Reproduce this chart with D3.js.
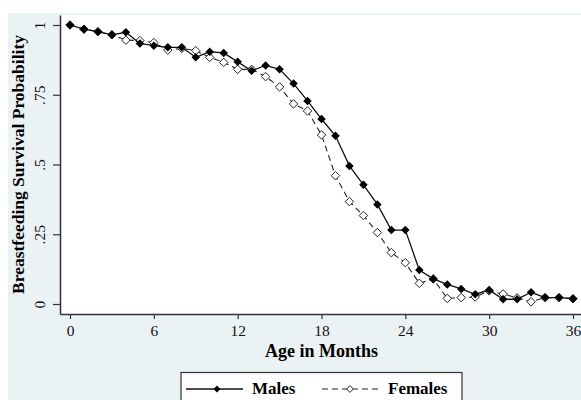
<!DOCTYPE html>
<html>
<head>
<meta charset="utf-8">
<script src="https://cdn.jsdelivr.net/npm/d3@7"></script>
<style>
  body { margin: 0; background: #fff; }
  svg { display: block; font-family: "Liberation Serif", "Times New Roman", serif; }
</style>
</head>
<body>
<div id="chart"></div>
<script>
const months = d3.range(0, 37);
const males = [1.0, 0.985, 0.976, 0.965, 0.974, 0.934, 0.926, 0.92, 0.92, 0.884,
    0.904, 0.90, 0.868, 0.836, 0.855, 0.841, 0.79, 0.728, 0.663, 0.603,
    0.495, 0.427, 0.357, 0.265, 0.265, 0.122, 0.09, 0.07, 0.054, 0.035,
    0.05, 0.017, 0.017, 0.042, 0.023, 0.023, 0.019];
const females = [1.0, 0.985, 0.976, 0.965, 0.946, 0.944, 0.937, 0.91, 0.916, 0.908,
    0.884, 0.866, 0.841, 0.841, 0.815, 0.778, 0.717, 0.692, 0.606, 0.46,
    0.367, 0.317, 0.256, 0.184, 0.148, 0.074, 0.09, 0.02, 0.023, 0.025,
    0.047, 0.036, 0.022, 0.008, 0.023, 0.023, 0.019];
const xTicks = [0, 6, 12, 18, 24, 30, 36];
const yTicks = [0, 0.25, 0.5, 0.75, 1];
const yTickLabels = ["0", ".25", ".5", ".75", "1"];

const width = 581, height = 400;
const plot = {left: 60, top: 15, right: 581, bottom: 314};

const svg = d3.select("#chart").append("svg")
    .attr("width", width)
    .attr("height", height);

// graph region background
svg.append("rect")
    .attr("x", 8).attr("y", 13)
    .attr("width", width - 8).attr("height", height - 13)
    .attr("fill", "#eaf2f3");

svg.append("rect")
    .attr("x", plot.left).attr("y", plot.top)
    .attr("width", plot.right - plot.left).attr("height", plot.bottom - plot.top)
    .attr("fill", "#fff");

const x = d3.scaleLinear().domain([0, 36]).range([70, 573]);
const y = d3.scaleLinear().domain([0, 1]).range([304, 25]);

// axes drawn on scales stretched to the plot region edges
const xAxisScale = x.copy().domain([x.invert(plot.left), x.invert(plot.right)]).range([plot.left, plot.right]);
const yAxisScale = y.copy().domain([y.invert(plot.bottom), y.invert(plot.top)]).range([plot.bottom, plot.top]);

const xAxis = svg.append("g")
    .attr("transform", `translate(0,${plot.bottom})`)
    .call(d3.axisBottom(xAxisScale).tickValues(xTicks).tickSize(5).tickSizeOuter(0));

const yAxis = svg.append("g")
    .attr("transform", `translate(${plot.left},0)`)
    .call(d3.axisLeft(yAxisScale).tickValues(yTicks).tickSize(7).tickSizeOuter(0)
        .tickFormat((d, i) => yTickLabels[i]));

[xAxis, yAxis].forEach(a => {
    a.select(".domain").attr("stroke", "#333").attr("stroke-width", 1.5);
    a.selectAll(".tick line").attr("stroke", "#333").attr("stroke-width", 1.2);
    a.selectAll("text").attr("fill", "#111").style("font-size", "15.5px")
        .style("font-family", "'Liberation Serif', serif");
});

xAxis.selectAll("text").attr("y", 22).attr("dy", 0);
yAxis.selectAll("text")
    .attr("transform", "rotate(-90)")
    .attr("x", 0).attr("y", -15).attr("dy", 0)
    .attr("text-anchor", "middle");

// titles
svg.append("text")
    .attr("x", (x(0) + x(36)) / 2).attr("y", 357)
    .attr("text-anchor", "middle")
    .style("font-size", "18px").style("font-weight", "bold")
    .text("Age in Months");

svg.append("text")
    .attr("transform", `translate(24,${(plot.top + plot.bottom) / 2}) rotate(-90)`)
    .attr("text-anchor", "middle")
    .style("font-size", "17.5px").style("font-weight", "bold")
    .text("Breastfeeding Survival Probability");

const line = d3.line().x((d, i) => x(months[i])).y(d => y(d));
const diamond = d3.symbol().type(d3.symbolDiamond2).size(46);

// females first, males on top
svg.append("path")
    .datum(females)
    .attr("d", line)
    .attr("fill", "none")
    .attr("stroke", "#222")
    .attr("stroke-width", 1.1)
    .attr("stroke-dasharray", "6,4");

svg.append("g").selectAll("path")
    .data(females)
    .join("path")
    .attr("transform", (d, i) => `translate(${x(months[i])},${y(d)})`)
    .attr("d", diamond)
    .attr("fill", "#fff")
    .attr("stroke", "#222")
    .attr("stroke-width", 1);

svg.append("path")
    .datum(males)
    .attr("d", line)
    .attr("fill", "none")
    .attr("stroke", "#111")
    .attr("stroke-width", 1.3);

svg.append("g").selectAll("path")
    .data(males)
    .join("path")
    .attr("transform", (d, i) => `translate(${x(months[i])},${y(d)})`)
    .attr("d", diamond)
    .attr("fill", "#000");

// legend
const legend = svg.append("g");
legend.append("rect")
    .attr("x", 181).attr("y", 372.5)
    .attr("width", 281).attr("height", 40)
    .attr("fill", "#fff")
    .attr("stroke", "#333")
    .attr("stroke-width", 1.2);

const ly = 389;
legend.append("line")
    .attr("x1", 186).attr("x2", 243).attr("y1", ly).attr("y2", ly)
    .attr("stroke", "#111").attr("stroke-width", 1.3);
legend.append("path")
    .attr("transform", `translate(217,${ly})`)
    .attr("d", d3.symbol().type(d3.symbolDiamond2).size(30))
    .attr("fill", "#000");
legend.append("text")
    .attr("x", 252).attr("y", ly + 5)
    .style("font-size", "17px").style("font-weight", "bold")
    .text("Males");

legend.append("line")
    .attr("x1", 322).attr("x2", 380).attr("y1", ly).attr("y2", ly)
    .attr("stroke", "#222").attr("stroke-width", 1.1)
    .attr("stroke-dasharray", "6,4");
legend.append("path")
    .attr("transform", `translate(350,${ly})`)
    .attr("d", d3.symbol().type(d3.symbolDiamond2).size(30))
    .attr("fill", "#fff").attr("stroke", "#222");
legend.append("text")
    .attr("x", 388).attr("y", ly + 5)
    .style("font-size", "17px").style("font-weight", "bold")
    .text("Females");
</script>
</body>
</html>
